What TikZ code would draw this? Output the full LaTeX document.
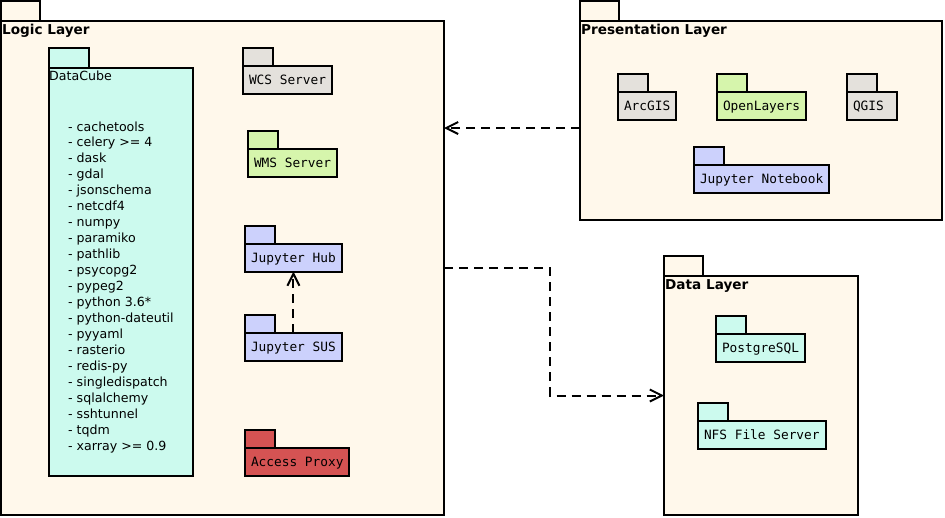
\documentclass[tikz,border=0pt]{standalone}
\usepackage{fontspec}
\setmainfont{DejaVu Sans}
\newfontfamily\monofont{DejaVu Sans Mono}
\usetikzlibrary{arrows.meta}
\definecolor{layerbg}{HTML}{FFF8EB}
\definecolor{pkgcyan}{HTML}{CCFAEE}
\definecolor{pkggray}{HTML}{E4E1DC}
\definecolor{pkggreen}{HTML}{D6F5AC}
\definecolor{pkgblue}{HTML}{CCD1FC}
\definecolor{pkgred}{HTML}{D55353}
\tikzset{
	layer/.style={draw, fill=layerbg, line width=2pt, anchor=north west, inner sep=0pt, outer sep=0pt},
	pkg/.style={draw, line width=2pt, anchor=north west, inner xsep=6pt, inner ysep=0pt, outer sep=0pt,
		minimum height=27.5pt, text height=9.3pt, text depth=0pt, font=\monofont\fontsize{12.8}{15}\selectfont},
	layertitle/.style={anchor=base west, inner sep=0pt, font=\bfseries\fontsize{13.6}{16}\selectfont},
	libtext/.style={anchor=base west, inner sep=0pt, font=\fontsize{12.6}{16}\selectfont},
	dep/.style={line width=2pt, dash pattern=on 9pt off 6pt, -{Straight Barb[length=12pt,width=12pt]}}
}
\begin{document}
\begin{tikzpicture}[x=1pt, y=-1pt]
	\useasboundingbox (0,0) rectangle (945,517);
	
	% layers
	\node[layer, minimum width=443pt, minimum height=494pt] (logic) at (1,21) {};
	\node[layer, minimum width=362pt, minimum height=199pt] (pres) at (580,21) {};
	\node[layer, minimum width=194pt, minimum height=239pt] (data) at (664,276) {};
	\foreach \n in {logic,pres,data}
		\draw[fill=layerbg, line width=2pt] (\n.north west) rectangle ++(39,-20);
	
	\node[layertitle] (logictitle) at (2,34) {Logic Layer};
	\node[layertitle] (prestitle) at (581,34) {Presentation Layer};
	\node[layertitle] (datatitle) at (665,289) {Data Layer};
	
	% datacube
	\node[layer, fill=pkgcyan, minimum width=144pt, minimum height=408pt] (cube) at (49,68) {};
	\draw[fill=pkgcyan, line width=2pt] (cube.north west) rectangle ++(40,-20);
	\node[libtext] (cubetitle) at (49,80) {DataCube};
	\foreach \lib [count=\i from 0] in {cachetools, celery >= 4, dask, gdal, jsonschema, netcdf4, numpy,
		paramiko, pathlib, psycopg2, pypeg2, python 3.6*, python-dateutil, pyyaml, rasterio, redis-py,
		singledispatch, sqlalchemy, sshtunnel, tqdm, xarray >= 0.9}
		\node[libtext] (lib\i) at (68,131+15.95*\i) {- \lib};
	
	% packages
	\node[pkg, fill=pkggray] (wcs) at (243,66) {WCS Server};
	\node[pkg, fill=pkggreen] (wms) at (248,149) {WMS Server};
	\node[pkg, fill=pkgblue] (hub) at (245,244) {Jupyter Hub};
	\node[pkg, fill=pkgblue] (sus) at (245,333) {Jupyter SUS};
	\node[pkg, fill=pkgred] (proxy) at (245,448) {Access Proxy};
	
	\node[pkg, fill=pkggray] (arcgis) at (618,92) {ArcGIS};
	\node[pkg, fill=pkggreen] (ol) at (717,92) {OpenLayers};
	\node[pkg, fill=pkggray, text width=38pt] (qgis) at (847,92) {QGIS};
	\node[pkg, fill=pkgblue] (notebook) at (694,165) {Jupyter Notebook};
	
	\node[pkg, fill=pkgcyan] (pg) at (716,334) {PostgreSQL};
	\node[pkg, fill=pkgcyan] (nfs) at (698,421) {NFS File Server};
	
	\foreach \n/\c in {wcs/pkggray, wms/pkggreen, hub/pkgblue, sus/pkgblue, proxy/pkgred,
		arcgis/pkggray, ol/pkggreen, qgis/pkggray, notebook/pkgblue, pg/pkgcyan, nfs/pkgcyan}
		\draw[fill=\c, line width=2pt] (\n.north west) rectangle ++(30,-18);
	
	% dependencies
	\draw[dep] (sus.north) -- (hub.south);
	\draw[dep] ([yshift=-7.5pt]pres.west) coordinate (presout) -- (presout -| logic.east);
	\draw[dep] (logic.east) -| ([xshift=-114pt]data.west) -- (data.west);
\end{tikzpicture}
\end{document}
